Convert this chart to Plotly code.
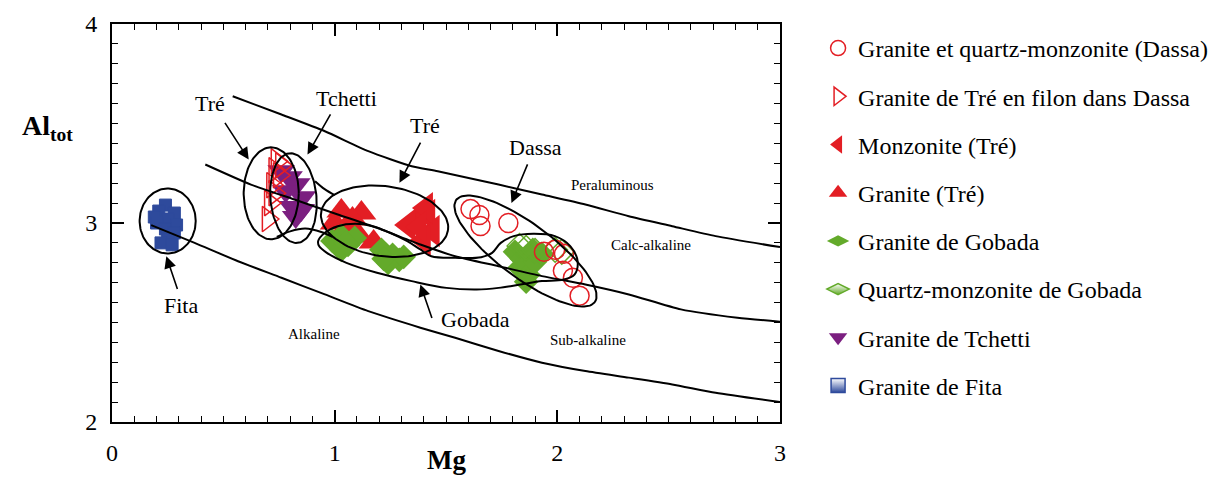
import numpy as np
import plotly.graph_objects as go

# ---------------- data ----------------
dassa_x = [1.61, 1.65, 1.655, 1.78, 1.94, 1.99, 2.03, 2.025, 2.07, 2.10]
dassa_y = [3.07, 3.04, 2.985, 3.00, 2.855, 2.865, 2.845, 2.76, 2.725, 2.635]

tre_filon_x = [0.74, 0.76, 0.73, 0.75, 0.72, 0.73, 0.71, 0.70]
tre_filon_y = [3.31, 3.29, 3.265, 3.24, 3.19, 3.15, 3.10, 3.02]

monz_tre_x = [1.36, 1.42, 1.44, 1.40, 1.33, 1.41, 1.38]
monz_tre_y = [3.01, 3.04, 2.96, 2.915, 2.99, 3.075, 2.98]

gran_tre_x = [1.03, 1.12, 1.06, 1.00, 1.175, 1.11, 1.08]
gran_tre_y = [3.06, 3.05, 2.99, 3.00, 2.905, 2.935, 3.02]

gobada_x = [0.99, 1.03, 1.06, 1.03, 1.09, 1.05,
            1.21, 1.26, 1.29, 1.24, 1.31, 1.22,
            1.81, 1.84, 1.83, 1.87, 1.90, 1.86, 1.93, 1.89]
gobada_y = [2.91, 2.935, 2.89, 2.865, 2.925, 2.90,
            2.865, 2.84, 2.815, 2.80, 2.83, 2.82,
            2.855, 2.82, 2.775, 2.74, 2.805, 2.705, 2.845, 2.865]

qm_gobada_x = [1.83, 1.86, 1.90, 1.99, 2.02]
qm_gobada_y = [2.885, 2.875, 2.86, 2.865, 2.855]

tchetti_x = [0.76, 0.795, 0.83, 0.78, 0.855, 0.81, 0.85, 0.825]
tchetti_y = [3.26, 3.23, 3.195, 3.16, 3.13, 3.08, 3.065, 3.03]

fita_x = [0.24, 0.21, 0.28, 0.19, 0.25, 0.20, 0.29, 0.24, 0.28, 0.25, 0.22, 0.27]
fita_y = [3.09, 3.06, 3.05, 3.03, 3.02, 3.00, 2.99, 2.97, 2.95, 2.92, 2.90, 2.89]

# boundary curves
upper_x = [0.542, 0.761, 0.956, 1.151, 1.346, 1.463, 1.736, 1.931, 2.126, 2.321, 2.516, 2.711, 3.0]
upper_y = [3.637, 3.545, 3.461, 3.361, 3.285, 3.26, 3.193, 3.143, 3.093, 3.034, 2.984, 2.934, 2.879]
middle_x = [0.419, 0.624, 0.819, 1.014, 1.19, 1.385, 1.541, 1.736, 1.931, 2.126, 2.321, 2.555, 2.809, 3.0]
middle_y = [3.294, 3.193, 3.118, 3.043, 2.976, 2.892, 2.833, 2.783, 2.733, 2.691, 2.641, 2.566, 2.524, 2.504]
lower_x = [0.176, 0.371, 0.566, 0.761, 0.956, 1.151, 1.385, 1.541, 1.736, 1.931, 2.126, 2.321, 2.516, 2.711, 3.0]
lower_y = [2.989, 2.9, 2.808, 2.725, 2.641, 2.557, 2.474, 2.423, 2.357, 2.298, 2.256, 2.223, 2.189, 2.147, 2.1]

# Gobada outline
gob_x = [0.926, 0.956, 1.014, 1.092, 1.17, 1.248, 1.326, 1.385, 1.434, 1.541, 1.658, 1.707, 1.746,
         1.804, 1.892, 1.989, 2.058, 2.091, 2.077, 2.028, 1.931, 1.834, 1.736, 1.638, 1.502,
         1.346, 1.19, 1.053, 0.965, 0.93, 0.926]
gob_y = [2.909, 2.951, 2.984, 2.996, 2.984, 2.951, 2.909, 2.867, 2.833, 2.825, 2.828, 2.85, 2.9,
         2.934, 2.946, 2.934, 2.884, 2.808, 2.741, 2.716, 2.708, 2.691, 2.674, 2.666, 2.674,
         2.708, 2.75, 2.8, 2.85, 2.884, 2.909]

# connectors of the Tré outline
conn_top_x = [0.912, 0.955, 1.0]
conn_top_y = [3.21, 3.17, 3.14]
conn_bot_x = [0.74, 0.80, 0.868, 0.94, 0.99]
conn_bot_y = [2.93, 2.958, 2.972, 2.955, 2.93]

RED = "#E31E24"
GREEN = "#63AA2A"
PURPLE = "#7B1F80"
BLUE = "#2E4A9C"
FONT = "Times New Roman, Liberation Serif, Tinos, DejaVu Serif, serif"

PXX = 222.3  # pixels per x unit
PXY = 199.0  # pixels per y unit


def ellipse(cx, cy, a, b, ang):
    t = np.linspace(0, 2 * np.pi, 120)
    ex, ey = a * np.cos(t), b * np.sin(t)
    r = np.deg2rad(ang)
    X = ex * np.cos(r) - ey * np.sin(r)
    Y = ex * np.sin(r) + ey * np.cos(r)
    return cx + X / PXX, cy - Y / PXY


fig = go.Figure()

# ---------------- data traces ----------------
fig.add_trace(go.Scatter(x=fita_x, y=fita_y, mode="markers", showlegend=False,
                         marker=dict(symbol="square", size=12, color=BLUE,
                                     line=dict(color=BLUE, width=1))))
fig.add_trace(go.Scatter(x=tchetti_x, y=tchetti_y, mode="markers", showlegend=False,
                         marker=dict(symbol="triangle-down", size=24, color=PURPLE, line=dict(width=0))))
fig.add_trace(go.Scatter(x=tre_filon_x, y=tre_filon_y, mode="markers", showlegend=False,
                         marker=dict(symbol="triangle-right-open", size=22, color=RED,
                                     line=dict(color=RED, width=1.5))))
fig.add_trace(go.Scatter(x=gran_tre_x, y=gran_tre_y, mode="markers", showlegend=False,
                         marker=dict(symbol="triangle-up", size=26, color=RED, line=dict(width=0))))
fig.add_trace(go.Scatter(x=monz_tre_x, y=monz_tre_y, mode="markers", showlegend=False,
                         marker=dict(symbol="triangle-left", size=28, color=RED, line=dict(width=0))))
fig.add_trace(go.Scatter(x=gobada_x, y=gobada_y, mode="markers", showlegend=False,
                         marker=dict(symbol="diamond", size=19, color=GREEN, line=dict(width=0))))
fig.add_trace(go.Scatter(x=qm_gobada_x, y=qm_gobada_y, mode="markers", showlegend=False,
                         marker=dict(symbol="diamond-open", size=19, color=GREEN,
                                     line=dict(color=GREEN, width=1.5))))
fig.add_trace(go.Scatter(x=dassa_x, y=dassa_y, mode="markers", showlegend=False,
                         marker=dict(symbol="circle-open", size=19, color=RED,
                                     line=dict(color=RED, width=1.5))))

# ---------------- lines and outlines ----------------
line_style = dict(color="black", width=2)
for xs, ys in [(upper_x, upper_y), (middle_x, middle_y), (lower_x, lower_y)]:
    fig.add_trace(go.Scatter(x=xs, y=ys, mode="lines", line=dict(shape="spline", smoothing=0.6, **line_style),
                             showlegend=False, hoverinfo="skip"))

ellipses = [
    (0.25, 3.01, 28, 32.5, 0),     # Fita
    (0.715, 3.149, 27.5, 46, 0),   # Tré (left)
    (0.815, 3.125, 23, 45, -5),    # Tchetti
    (1.224, 3.009, 64, 35, 8),     # Tré (middle)
    (1.857, 2.859, 86, 27, 36.5),  # Dassa
]
for cx, cy, a, b, ang in ellipses:
    ex, ey = ellipse(cx, cy, a, b, ang)
    fig.add_trace(go.Scatter(x=ex, y=ey, mode="lines", line=line_style, showlegend=False, hoverinfo="skip"))

fig.add_trace(go.Scatter(x=gob_x, y=gob_y, mode="lines", line=dict(shape="spline", smoothing=1.0, **line_style),
                         showlegend=False, hoverinfo="skip"))
for xs, ys in [(conn_top_x, conn_top_y), (conn_bot_x, conn_bot_y)]:
    fig.add_trace(go.Scatter(x=xs, y=ys, mode="lines", line=dict(shape="spline", **line_style),
                             showlegend=False, hoverinfo="skip"))

# ---------------- legend entries ----------------
legend_items = [
    ("Granite et quartz-monzonite (Dassa)", dict(symbol="circle-open", size=15, color=RED, line=dict(color=RED, width=1.5))),
    ("Granite de Tré en filon dans Dassa", dict(symbol="triangle-right-open", size=16, color=RED, line=dict(color=RED, width=1.5))),
    ("Monzonite (Tré)", dict(symbol="triangle-left", size=16, color=RED, line=dict(width=0))),
    ("Granite (Tré)", dict(symbol="triangle-up", size=16, color=RED, line=dict(width=0))),
    ("Granite de Gobada", dict(symbol="diamond-wide", size=16, color=GREEN, line=dict(width=0))),
    ("Quartz-monzonite de Gobada", dict(symbol="diamond-wide", size=16, color="white",
                                        gradient=dict(type="vertical", color=GREEN),
                                        line=dict(color=GREEN, width=1.5))),
    ("Granite de Tchetti", dict(symbol="triangle-down", size=16, color=PURPLE, line=dict(width=0))),
    ("Granite de Fita", dict(symbol="square", size=14, color="white",
                             gradient=dict(type="vertical", color=BLUE),
                             line=dict(color=BLUE, width=1.5))),
]
for i, (name, mk) in enumerate(legend_items):
    fig.add_trace(go.Scatter(x=[None], y=[None], mode="markers", name=name, marker=mk,
                             legendgroup=f"g{i}", showlegend=True))

# ---------------- annotations ----------------
labels = [
    ("Tré", 0.439, 3.603, 22), ("Tchetti", 1.053, 3.625, 22), ("Tré", 1.404, 3.491, 22),
    ("Dassa", 1.902, 3.377, 22), ("Fita", 0.308, 2.586, 22), ("Gobada", 1.634, 2.515, 22),
    ("Peraluminous", 2.247, 3.193, 15), ("Calc-alkaline", 2.422, 2.889, 15),
    ("Alkaline", 0.907, 2.44, 15), ("Sub-alkaline", 2.136, 2.41, 15),
]
annotations = []
for txt, x, y, s in labels:
    annotations.append(dict(text=txt, x=x, y=y, xref="x", yref="y", showarrow=False,
                            font=dict(family=FONT, size=s, color="black")))

arrows = [  # (tail x, tail y, head x, head y)
    (0.503, 3.511, 0.614, 3.319),
    (0.985, 3.553, 0.878, 3.344),
    (1.389, 3.411, 1.291, 3.202),
    (1.869, 3.302, 1.794, 3.101),
    (0.296, 2.661, 0.244, 2.833),
    (1.439, 2.515, 1.385, 2.691),
]
for tx, ty, hx, hy in arrows:
    annotations.append(dict(text="", x=hx, y=hy, ax=tx, ay=ty, xref="x", yref="y", axref="x", ayref="y",
                            showarrow=True, arrowhead=2, arrowsize=1.5, arrowwidth=1.6,
                            arrowcolor="black", standoff=0, startstandoff=0))

annotations.append(dict(text="<b>Mg</b>", x=1.5, y=-0.139, xref="x", yref="paper", showarrow=False,
                        font=dict(family=FONT, size=27, color="black")))
annotations.append(dict(text="<b>Al<sub>tot</sub></b>", x=-0.138, y=0.79, xref="paper", yref="paper",
                        xanchor="left", showarrow=False, font=dict(family=FONT, size=28, color="black")))

axis_common = dict(showline=True, linewidth=2, linecolor="black", mirror="allticks",
                   ticks="inside", ticklen=12, tickwidth=1.5, tickcolor="black",
                   showgrid=False, zeroline=False, tickmode="linear", dtick=1,
                   tickfont=dict(family=FONT, size=24, color="black"),
                   minor=dict(dtick=0.1, ticks="inside", ticklen=6, tickwidth=1.2, tickcolor="black",
                              showgrid=False))

fig.update_layout(
    width=1227, height=485,
    margin=dict(l=104, r=455, t=16, b=71, autoexpand=False),
    plot_bgcolor="white", paper_bgcolor="white",
    xaxis=dict(range=[0, 3], tick0=0, ticklabelstandoff=8, **axis_common),
    yaxis=dict(range=[2, 4], tick0=2, ticklabelstandoff=8, **axis_common),
    legend=dict(x=1.057, y=0.995, xanchor="left", yanchor="top", traceorder="grouped",
                tracegroupgap=14, itemsizing="trace",
                font=dict(family=FONT, size=24, color="black"), bgcolor="rgba(0,0,0,0)"),
    annotations=annotations,
    font=dict(family=FONT),
)

fig.write_html("out.html")
